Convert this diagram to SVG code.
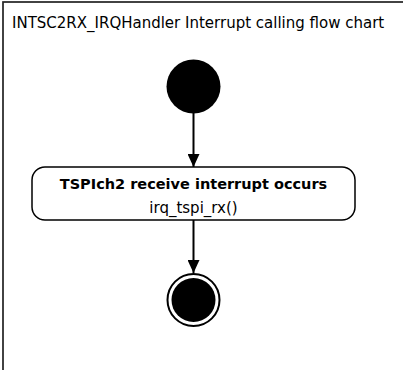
<svg xmlns="http://www.w3.org/2000/svg" width="403" height="370" viewBox="0 0 403 370">
<defs>
<marker id="arr" markerWidth="13" markerHeight="12" refX="13" refY="6" orient="auto" markerUnits="userSpaceOnUse">
<path d="M0,0 L13,6 L0,12 Z" fill="#000"/>
</marker>
</defs>
<style>
text{font-family:"DejaVu Sans","Verdana",sans-serif;fill:#000}
.t{font-size:15px}
.b{font-size:14.5px;font-weight:bold}
.n{fill:#fff;stroke:#000;stroke-width:1.5}
.c{stroke:#000;stroke-width:2;fill:none}
</style>
<rect x="0" y="0" width="403" height="370" fill="#fff"/>
<g id="frame">
<rect x="3" y="2" width="440" height="420" fill="none" stroke="#222" stroke-width="1.7"/>
<text class="t" x="12" y="27.5">INTSC2RX_IRQHandler Interrupt calling flow chart</text>
</g>
<g id="connectors">
<line class="c" x1="193.5" y1="113" x2="193.5" y2="167" marker-end="url(#arr)"/>
<line class="c" x1="193.5" y1="220" x2="193.5" y2="273" marker-end="url(#arr)"/>
</g>
<g id="start">
<circle cx="193.5" cy="86.5" r="27" fill="#000"/>
</g>
<g id="action">
<rect class="n" x="32" y="167" width="323" height="53" rx="13" ry="13"/>
<text class="b" x="193.5" y="189" text-anchor="middle">TSPIch2 receive interrupt occurs</text>
<text class="t" x="193.5" y="213" text-anchor="middle">irq_tspi_rx()</text>
</g>
<g id="end">
<circle cx="193.5" cy="300" r="26" fill="#fff" stroke="#000" stroke-width="2"/>
<circle cx="193.5" cy="300" r="22" fill="#000"/>
</g>
</svg>
